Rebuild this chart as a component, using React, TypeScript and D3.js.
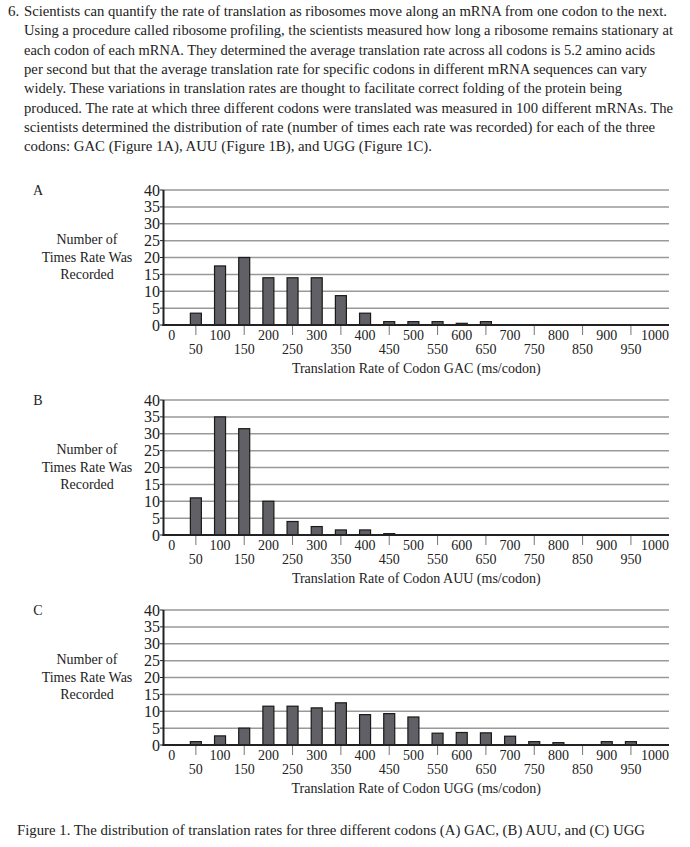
import React from "react";
import * as d3 from "d3";

const rates = [0, 50, 100, 150, 200, 250, 300, 350, 400, 450, 500, 550, 600, 650, 700, 750, 800, 850, 900, 950, 1000];
const gacCounts = [0, 3.5, 17.5, 20, 14, 14, 14, 8.7, 3.5, 1, 1, 1, 0.5, 1, 0, 0, 0, 0, 0, 0, 0];
const auuCounts = [0, 11, 35, 31.5, 10, 4, 2.5, 1.5, 1.5, 0.4, 0, 0, 0, 0, 0, 0, 0, 0, 0, 0, 0];
const uggCounts = [0, 1, 2.7, 5, 11.5, 11.5, 11, 12.5, 9, 9.3, 8.3, 3.5, 3.7, 3.6, 2.6, 1, 0.7, 0, 1, 1, 0];
const yTicks = [0, 5, 10, 15, 20, 25, 30, 35, 40];
const panels = [
  { letter: "A", codon: "GAC", counts: gacCounts },
  { letter: "B", codon: "AUU", counts: auuCounts },
  { letter: "C", codon: "UGG", counts: uggCounts },
];
const bodyLines = [
  "Scientists can quantify the rate of translation as ribosomes move along an mRNA from one codon to the next.",
  "Using a procedure called ribosome profiling, the scientists measured how long a ribosome remains stationary at",
  "each codon of each mRNA. They determined the average translation rate across all codons is 5.2 amino acids",
  "per second but that the average translation rate for specific codons in different mRNA sequences can vary",
  "widely. These variations in translation rates are thought to facilitate correct folding of the protein being",
  "produced. The rate at which three different codons were translated was measured in 100 different mRNAs. The",
  "scientists determined the distribution of rate (number of times each rate was recorded) for each of the three",
  "codons: GAC (Figure 1A), AUU (Figure 1B), and UGG (Figure 1C).",
];
const bodyLineEnds = [667, 673, 655, 647, 622, 673, 655, 432];
const caption = "Figure 1. The distribution of translation rates for three different codons (A) GAC, (B) AUU, and (C) UGG";

const FONT = "'Liberation Serif', 'Times New Roman', serif";
const W = 690, H = 847;
const plotLeft = 163.5, plotRight = 669;
const panelTops = [190, 400, 610];
const plotH = 135;
const barW = 11;

function Panel({ top, letter, codon, counts }: { top: number; letter: string; codon: string; counts: number[] }) {
  const x = d3.scaleLinear().domain([0, 1000]).range([171.7, 655.1]);
  const y = d3.scaleLinear().domain([0, 40]).range([top + plotH, top]);
  const y0 = y(0);
  return (
    <g>
      <text x={38} y={top + 5} fontSize={14} textAnchor="middle" fill="#222">{letter}</text>
      {["Number of", "Times Rate Was", "Recorded"].map((t, i) => (
        <text key={t} x={87} y={top + 54 + i * 17.7} fontSize={14} textAnchor="middle" fill="#222">{t}</text>
      ))}
      {yTicks.filter((v) => v > 0).map((v) => (
        <line key={v} x1={plotLeft} x2={plotRight} y1={y(v)} y2={y(v)} stroke="#999" strokeWidth={1.5} />
      ))}
      {yTicks.map((v) => (
        <g key={"t" + v}>
          <line x1={plotLeft - 3.5} x2={plotLeft} y1={y(v)} y2={y(v)} stroke="#222" strokeWidth={1} />
          <text x={160} y={y(v) + 5.5} fontSize={16} textAnchor="end" fill="#222">{v}</text>
        </g>
      ))}
      {counts.map((c, i) =>
        c > 0 ? (
          <rect key={"b" + i} x={x(rates[i]) - barW / 2} y={y(c)} width={barW} height={y0 - y(c)} fill="#606066" stroke="#1a1a1a" strokeWidth={1.2} />
        ) : null
      )}
      <line x1={plotLeft} x2={plotLeft} y1={top} y2={y0 + 1} stroke="#222" strokeWidth={2} />
      <line x1={plotLeft - 1} x2={plotRight} y1={y0} y2={y0} stroke="#222" strokeWidth={2} />
      {rates.map((r, i) =>
        i % 2 === 1 ? (
          <g key={"x" + r}>
            <line x1={x(r)} x2={x(r)} y1={y0 + 1} y2={y0 + 10} stroke="#777" strokeWidth={1} />
            <text x={x(r)} y={y0 + 29} fontSize={14} textAnchor="middle" fill="#222">{r}</text>
          </g>
        ) : (
          <text key={"x" + r} x={x(r)} y={y0 + 15} fontSize={14} textAnchor="middle" fill="#222">{r}</text>
        )
      )}
      <text x={(plotLeft + plotRight) / 2} y={y0 + 48} fontSize={14} textAnchor="middle" fill="#222">
        {`Translation Rate of Codon ${codon} (ms/codon)`}
      </text>
    </g>
  );
}

export default function App() {
  return (
    <svg width={W} height={H} style={{ position: "absolute", left: 0, top: 0, background: "#fff" }} fontFamily={FONT}>
      <rect x={0} y={0} width={W} height={H} fill="#fff" />
      <text x={8} y={16} fontSize={15} fill="#222">6.</text>
      {bodyLines.map((t, i) => (
        <text key={i} x={24} y={16 + i * 19.3} fontSize={14.5} fill="#222" textLength={bodyLineEnds[i] - 24} lengthAdjust="spacingAndGlyphs">{t}</text>
      ))}
      {panels.map((p, i) => (
        <Panel key={p.letter} top={panelTops[i]} letter={p.letter} codon={p.codon} counts={p.counts} />
      ))}
      <text x={17} y={835} fontSize={15} fill="#222" textLength={628} lengthAdjust="spacingAndGlyphs">{caption}</text>
    </svg>
  );
}
